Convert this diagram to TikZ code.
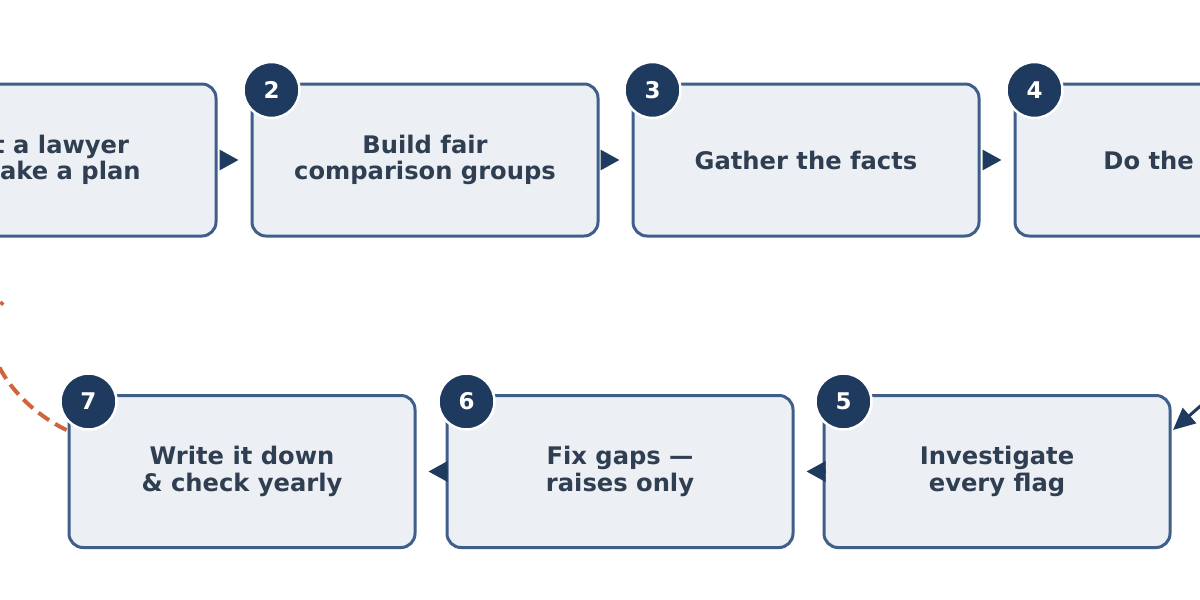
\documentclass[tikz,border=0pt]{standalone}
\usepackage{fontspec}
\setmainfont{DejaVu Sans}
\usetikzlibrary{calc,arrows.meta}
\definecolor{boxfill}{HTML}{ECF0F5}
\definecolor{boxline}{HTML}{3F5F8A}
\definecolor{badgefill}{HTML}{1E3A5F}
\definecolor{txt}{HTML}{2F3E50}
\definecolor{loopc}{HTML}{D0643C}
\tikzset{
  stepbox/.style={draw=boxline, fill=boxfill, line width=3pt, rounded corners=14pt,
    minimum width=346pt, minimum height=152pt, inner sep=0pt, align=center,
    text=txt, font=\fontsize{24.2}{26.5}\selectfont\bfseries},
  badge/.style={circle, fill=badgefill, draw=white, line width=2.5pt, minimum size=56pt,
    inner sep=0pt, text=white, font=\fontsize{23}{24}\selectfont\bfseries},
  flow/.style={draw=badgefill, line width=3pt, -{Triangle[length=19pt,width=20pt]}},
  loopline/.style={draw=loopc, line width=4pt, dash pattern=on 13pt off 7pt},
}
\begin{document}
\begin{tikzpicture}[x=1pt,y=-1pt]
\useasboundingbox (0,0) rectangle (1200,600);
\clip (0,0) rectangle (1200,600);
\fill[white] (0,0) rectangle (1200,600);
% top row
\node[stepbox] (b1) at (43,160) {Get a lawyer\\\& make a plan};
\node[stepbox] (b2) at (425,160) {Build fair\\comparison groups};
\node[stepbox] (b3) at (806,160) {Gather the facts};
\node[stepbox] (b4) at (1188,160) {Do the math};
% bottom row
\node[stepbox] (b7) at (242,471.5) {Write it down\\\& check yearly};
\node[stepbox] (b6) at (620,471.5) {Fix gaps —\\raises only};
\node[stepbox] (b5) at (997,471.5) {Investigate\\every flag};
% badges
\node[badge] (n1) at ($(b1.north west)+(21,7.5)$) {1};
\node[badge] (n2) at ($(b2.north west)+(21,7.5)$) {2};
\node[badge] (n3) at ($(b3.north west)+(21,7.5)$) {3};
\node[badge] (n4) at ($(b4.north west)+(21,7.5)$) {4};
\node[badge] (n5) at ($(b5.north west)+(21,7.5)$) {5};
\node[badge] (n6) at ($(b6.north west)+(21,7.5)$) {6};
\node[badge] (n7) at ($(b7.north west)+(21,7.5)$) {7};
% connectors
\draw[flow, shorten <=4pt, shorten >=12pt] (b1.east) -- (b2.west);
\draw[flow, shorten <=4pt, shorten >=12pt] (b2.east) -- (b3.west);
\draw[flow, shorten <=4pt, shorten >=12pt] (b3.east) -- (b4.west);
\draw[flow, shorten <=2pt, shorten >=12pt] (b5.west) -- (b6.east);
\draw[flow, shorten <=2pt, shorten >=12pt] (b6.west) -- (b7.east);
\coordinate (d4) at (1262,352);
\coordinate (d5) at (1173,430);
\draw[flow, -{Triangle[length=22pt,width=20pt]}] (d4) -- (d5);
% loop back
\coordinate (l7) at ($(b7.north west)+(-1,36)$);
\coordinate (l1) at (3,302);
\draw[loopline] (l7) .. controls (5,400) and (-30,335) .. (l1);
\end{tikzpicture}
\end{document}
